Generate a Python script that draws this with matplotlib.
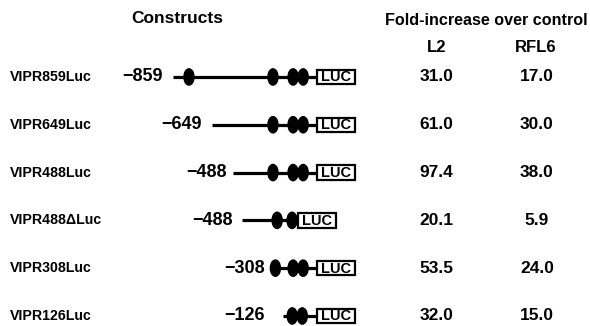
import matplotlib.pyplot as plt
from matplotlib.patches import Ellipse, Rectangle
from matplotlib.transforms import blended_transform_factory

# Construct names and their promoter start points (bp upstream)
constructs = ["VIPR859Luc", "VIPR649Luc", "VIPR488Luc", "VIPR488\u0394Luc", "VIPR308Luc", "VIPR126Luc"]
starts = ["\u2212859", "\u2212649", "\u2212488", "\u2212488", "\u2212308", "\u2212126"]
# left end of the drawn promoter line (schematic bp, LUC box at 0)
line_start = [-830, -605, -484, -432, -265, -196]
# positions of the elements (ovals) along each construct
elements = [
    [-738, -254, -138, -80],
    [-254, -138, -80],
    [-254, -138, -80],
    [-230, -144],
    [-240, -138, -80],
    [-143, -85],
]
# position of the LUC box left edge
luc_pos = [0, 0, 0, -110, 0, 0]

# fold increase over control
l2 = [31.0, 61.0, 97.4, 20.1, 53.5, 32.0]
rfl6 = [17.0, 30.0, 38.0, 5.9, 24.0, 15.0]

plt.rcParams['font.family'] = ['Liberation Sans', 'DejaVu Sans']

fig = plt.figure(figsize=(5.9, 3.26), dpi=100)
ax = fig.add_axes([0, 0, 1, 1])
ax.set_xlim(-1827, 1573)
ax.set_ylim(5.21, -1.61)
ax.axis('off')

tr = blended_transform_factory(ax.transAxes, ax.transData)

ax.text(0.30, -1.22, "Constructs", transform=tr, ha='center', va='center',
        fontsize=12.5, fontweight='bold')
ax.text(0.8246, -1.19, "Fold-increase over control", transform=tr, ha='center', va='center',
        fontsize=11.6, fontweight='bold')
ax.text(0.740, -0.61, "L2", transform=tr, ha='center', va='center', fontsize=12, fontweight='bold')
ax.text(0.908, -0.61, "RFL6", transform=tr, ha='center', va='center', fontsize=12, fontweight='bold')

box_w = 220
box_h = 0.30
ov_w = 58
ov_h = 0.34
# space between the start-point label and the line, per row (bp)
gaps = [58, 58, 35, 52, 35, 104]

for i, name in enumerate(constructs):
    ax.text(0.017, i, name, transform=tr, ha='left', va='center', fontsize=10.2, fontweight='bold')
    box_x = luc_pos[i]
    # promoter line
    ax.plot([line_start[i], box_x], [i, i], color='black', lw=2.3, solid_capstyle='butt')
    ax.text(line_start[i] - gaps[i], i, starts[i], ha='right', va='center',
            fontsize=13, fontweight='bold')
    for e in elements[i]:
        ax.add_patch(Ellipse((e, i), ov_w, ov_h, facecolor='black', edgecolor='black'))
    ax.add_patch(Rectangle((box_x, i - box_h / 2), box_w, box_h, facecolor='white',
                           edgecolor='black', lw=1.6))
    ax.text(box_x + box_w / 2, i + 0.01, "LUC", ha='center', va='center',
            fontsize=10.5, fontweight='bold')
    ax.text(0.740, i, f"{l2[i]:.1f}", transform=tr, ha='center', va='center',
            fontsize=12.5, fontweight='bold')
    ax.text(0.910, i, f"{rfl6[i]:.1f}", transform=tr, ha='center', va='center',
            fontsize=12.5, fontweight='bold')

fig.savefig("out.png", dpi=100)
